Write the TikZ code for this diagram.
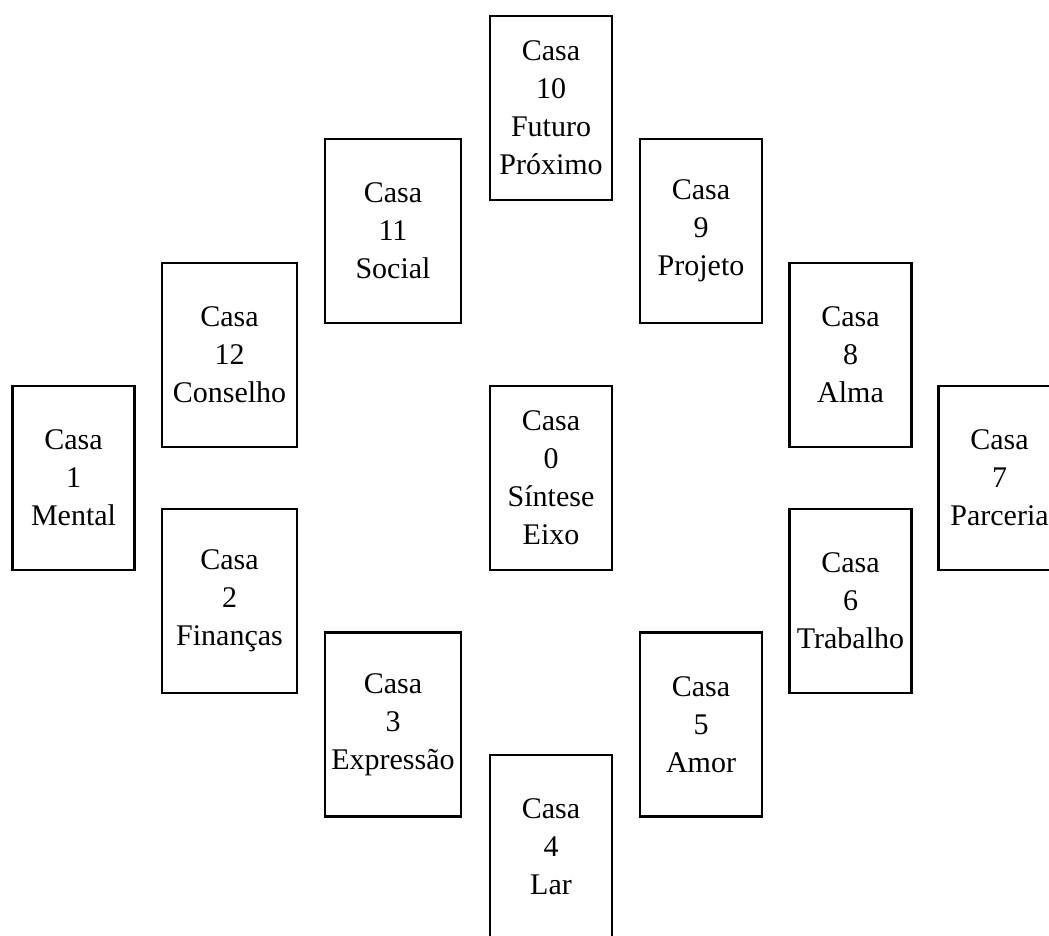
\documentclass[tikz,border=0pt]{standalone}
\usepackage{fontspec}
\setmainfont{Liberation Serif}
\begin{document}
\begin{tikzpicture}[x=1pt,y=1pt,
  casabox/.style={draw=black, line width=2.4pt, inner sep=0pt, align=center,
    font=\fontsize{30pt}{38pt}\selectfont, minimum height=184pt},
  narrow/.style={casabox, minimum width=122pt},
  wide/.style={casabox, minimum width=136pt}]
\useasboundingbox (0,0) rectangle (1049,936);
\fill[white] (0,0) rectangle (1049,936);
\clip (0,0) rectangle (1049,936);
\node[narrow] (c10) at (551,828) {Casa\\10\\Futuro\\Próximo};
\node[wide]   (c11) at (393,705) {Casa\\11\\Social};
\node[narrow] (c9)  at (701,705) {Casa\\9\\Projeto};
\node[casabox, minimum width=135pt] (c12) at (229.5,581) {Casa\\12\\Conselho};
\node[narrow] (c8)  at (850.5,581) {Casa\\8\\Alma};
\node[narrow] (c1)  at (73.5,458) {Casa\\1\\Mental};
\node[narrow] (c0)  at (551,458) {Casa\\0\\Síntese\\Eixo};
\node[narrow] (c7)  at (999.5,458) {Casa\\7\\Parceria};
\node[casabox, minimum width=135pt] (c2) at (229.5,335) {Casa\\2\\Finanças};
\node[narrow] (c6)  at (850.5,335) {Casa\\6\\Trabalho};
\node[wide]   (c3)  at (393,211.5) {Casa\\3\\Expressão};
\node[narrow] (c5)  at (701,211.5) {Casa\\5\\Amor};
\node[narrow] (c4)  at (551,89) {Casa\\4\\Lar};
\end{tikzpicture}
\end{document}
